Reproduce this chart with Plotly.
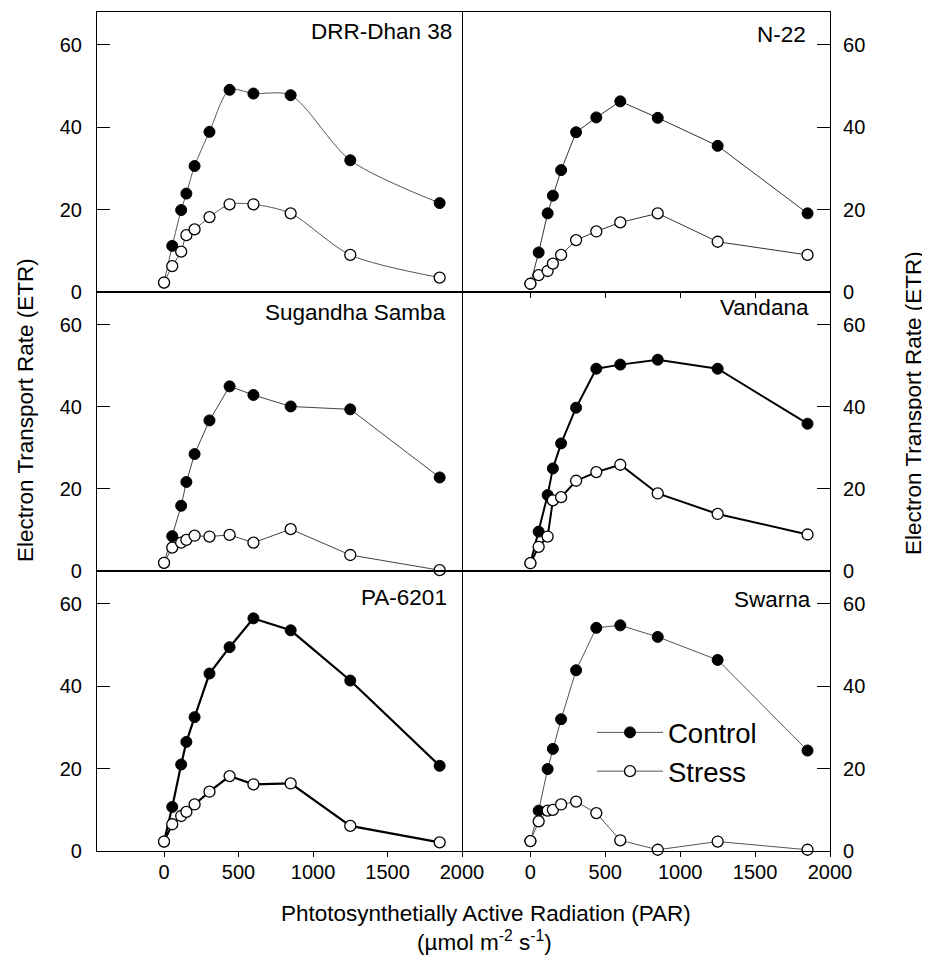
import plotly.graph_objects as go

# ---------------- data ----------------
par = [0, 55, 115, 150, 205, 305, 440, 600, 850, 1250, 1850]

cultivars = ["DRR-Dhan 38", "N-22", "Sugandha Samba", "Vandana", "PA-6201", "Swarna"]

drr_control = [2.3, 11.2, 19.9, 23.9, 30.6, 38.9, 49.1, 48.2, 47.8, 32.0, 21.6]
drr_stress = [2.3, 6.3, 9.8, 13.8, 15.2, 18.2, 21.3, 21.3, 19.1, 9.0, 3.5]

n22_control = [2.0, 9.6, 19.1, 23.4, 29.6, 38.8, 42.4, 46.3, 42.3, 35.5, 19.1]
n22_stress = [2.0, 4.1, 5.1, 6.9, 9.0, 12.6, 14.7, 16.9, 19.1, 12.2, 9.0]

sug_control = [2.0, 8.5, 15.9, 21.7, 28.5, 36.7, 45.0, 42.9, 40.1, 39.4, 22.8]
sug_stress = [2.0, 5.7, 6.9, 7.6, 8.6, 8.4, 8.8, 6.9, 10.2, 3.9, 0.2]

van_control = [1.9, 9.6, 18.5, 25.0, 31.1, 39.8, 49.3, 50.3, 51.5, 49.3, 35.9]
van_stress = [1.9, 5.9, 8.4, 17.2, 18.0, 22.0, 24.1, 25.9, 18.9, 13.9, 8.9]

pa_control = [2.3, 10.7, 21.0, 26.5, 32.5, 43.1, 49.5, 56.5, 53.6, 41.4, 20.7]
pa_stress = [2.3, 6.5, 8.5, 9.5, 11.3, 14.4, 18.2, 16.2, 16.4, 6.1, 2.1]

swa_control = [2.4, 9.8, 19.9, 24.8, 32.0, 43.9, 54.2, 54.8, 52.0, 46.4, 24.4]
swa_stress = [2.4, 7.2, 9.8, 10.0, 11.3, 12.0, 9.2, 2.6, 0.3, 2.3, 0.3]

control_sets = [drr_control, n22_control, sug_control, van_control, pa_control, swa_control]
stress_sets = [drr_stress, n22_stress, sug_stress, van_stress, pa_stress, swa_stress]

x_ticks = [0, 500, 1000, 1500, 2000]
y_ticks = [0, 20, 40, 60]

# ---------------- styling ----------------
OFF = 8  # page body margin
W, H = 930 - OFF, 955 - OFF
FONT = "Liberation Sans, Arial, sans-serif"
line_style = [  # (width, color, shape)
    (1.0, "#555555", "spline"),
    (1.0, "#333333", "linear"),
    (1.0, "#444444", "linear"),
    (2.0, "#000000", "linear"),
    (2.2, "#000000", "linear"),
    (1.0, "#555555", "linear"),
]

col_x = [(97, 462), (463, 830)]
row_y = [(12, 292), (292, 571), (571, 851)]

def px_x(p):
    return (p - OFF) / W

def px_y(p):
    return 1 - (p - OFF) / H

fig = go.Figure()
layout = dict(
    width=W, height=H,
    margin=dict(l=0, r=0, t=0, b=0),
    paper_bgcolor="white", plot_bgcolor="white",
    font=dict(family=FONT, size=20, color="black"),
    showlegend=True,
    legend=dict(
        x=px_x(592), y=px_y(708), xanchor="left", yanchor="top",
        font=dict(size=27.5, family=FONT), itemwidth=66,
        bgcolor="rgba(0,0,0,0)", tracegroupgap=0,
    ),
)

annotations = []
label_pos = [(454, 32), (808, 34), (448, 312), (811, 307), (449, 597), (813, 599)]

for i in range(6):
    r, c = divmod(i, 2)
    n = i + 1
    xa = "x" if n == 1 else f"x{n}"
    ya = "y" if n == 1 else f"y{n}"
    xkey = "xaxis" if n == 1 else f"xaxis{n}"
    ykey = "yaxis" if n == 1 else f"yaxis{n}"
    wdt, colr, shape = line_style[i]
    show_leg = (i == 5)
    fig.add_trace(go.Scatter(
        x=par, y=control_sets[i], xaxis=xa, yaxis=ya, mode="lines+markers",
        name="Control", showlegend=show_leg, cliponaxis=False,
        line=dict(color=colr, width=wdt, shape=shape, smoothing=0.8),
        marker=dict(symbol="circle", size=11, color="black",
                    line=dict(color="black", width=1)),
    ))
    fig.add_trace(go.Scatter(
        x=par, y=stress_sets[i], xaxis=xa, yaxis=ya, mode="lines+markers",
        name="Stress", showlegend=show_leg, cliponaxis=False,
        line=dict(color=colr, width=wdt, shape=shape, smoothing=0.8),
        marker=dict(symbol="circle", size=11, color="white",
                    line=dict(color="black", width=1.3)),
    ))
    x0, x1 = col_x[c]
    y0, y1 = row_y[r]
    bottom = (r == 2)
    xaxis = dict(
        domain=[px_x(x0), px_x(x1)], range=[-450, 2000], anchor=ya,
        showline=True, mirror=True, linecolor="black", linewidth=1.2,
        showgrid=False, zeroline=False, automargin=False,
        tickvals=x_ticks, showticklabels=bottom,
        ticks="outside" if (bottom or i == 1) else "", ticklen=5,
        tickwidth=1.2, tickcolor="black", ticklabelstandoff=-2,
        tickfont=dict(size=20, family=FONT),
    )
    yaxis = dict(
        domain=[px_y(y1), px_y(y0)], range=[0, 68], anchor=xa,
        side="left" if c == 0 else "right",
        showline=True, mirror=True, linecolor="black", linewidth=1.2,
        showgrid=False, zeroline=False, automargin=False,
        tickvals=y_ticks, ticks="inside", ticklen=13, tickwidth=1.4,
        tickcolor="black", ticklabelstandoff=(10 if c == 0 else 8),
        tickfont=dict(size=20, family=FONT),
    )
    layout[xkey] = xaxis
    layout[ykey] = yaxis
    lx, ly = label_pos[i]
    annotations.append(dict(
        text=cultivars[i], xref="paper", yref="paper",
        x=px_x(lx), y=px_y(ly), xanchor="right", yanchor="middle",
        showarrow=False, font=dict(size=22.5, family=FONT),
    ))

annotations += [
    dict(text="Electron Transport Rate (ETR)", xref="paper", yref="paper",
         x=px_x(25), y=px_y(410), textangle=-90, showarrow=False,
         xanchor="center", yanchor="middle", font=dict(size=22.5, family=FONT)),
    dict(text="Electron Transport Rate (ETR)", xref="paper", yref="paper",
         x=px_x(913), y=px_y(403), textangle=-90, showarrow=False,
         xanchor="center", yanchor="middle", font=dict(size=22.5, family=FONT)),
    dict(text="Phtotosynthetially Active Radiation (PAR)", xref="paper", yref="paper",
         x=px_x(486), y=px_y(913), showarrow=False,
         xanchor="center", yanchor="middle", font=dict(size=22.5, family=FONT)),
    dict(text="(\u00b5mol m<sup>-2</sup> s<sup>-1</sup>)", xref="paper", yref="paper",
         x=px_x(484), y=px_y(941), showarrow=False,
         xanchor="center", yanchor="middle", font=dict(size=22.5, family=FONT)),
]
layout["annotations"] = annotations
fig.update_layout(**layout)
fig.write_html("out.html")
